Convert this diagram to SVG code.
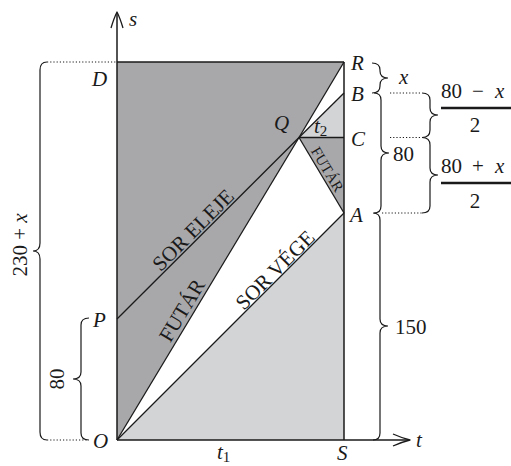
<svg xmlns="http://www.w3.org/2000/svg" width="511" height="466" viewBox="0 0 511 466">
<style>
.dk{fill:#a8a8ab}
.lt{fill:#d3d4d6}
.ln{stroke:#1a1a1a;stroke-width:1.3;fill:none;stroke-linejoin:round}
.ax{stroke:#1a1a1a;stroke-width:1.5;fill:none}
.br{stroke:#1a1a1a;stroke-width:1.2;fill:none}
.dot{stroke:#1a1a1a;stroke-width:1;stroke-dasharray:1.2 2;fill:none}
.bar{stroke:#1a1a1a;stroke-width:2.6}
.m{font-size:21px;font-style:italic}
.n{font-size:21px}
.w{font-size:21px}
.ws{font-size:15px}
</style>
<rect width="511" height="466" fill="#fff"/>
<g id="regions">
<polygon class="dk" points="117,440 117,62 344,62 299,137.5"/>
<polygon class="dk" points="299,137.5 344,137.5 344,213"/>
<polygon class="lt" points="299,137.5 344,93 344,137.5"/>
<polygon class="lt" points="117,440 344,213 344,440"/>
</g>
<g id="connectors">
<line class="ln" x1="117" y1="319" x2="299" y2="137.5"/>
<line class="ln" x1="299" y1="137.5" x2="344" y2="62"/>
<line class="ln" x1="117" y1="440" x2="299" y2="137.5"/>
<line class="ln" x1="299" y1="137.5" x2="344" y2="93"/>
<line class="ln" x1="299" y1="137.5" x2="344" y2="137.5"/>
<line class="ln" x1="299" y1="137.5" x2="344" y2="213"/>
<line class="ln" x1="117" y1="440" x2="344" y2="213"/>
<line class="ax" x1="117" y1="62" x2="344" y2="62"/>
<line class="ax" x1="344" y1="62" x2="344" y2="440"/>
<line class="ax" x1="117" y1="440" x2="117" y2="13"/>
<line class="ax" x1="117" y1="440" x2="409" y2="440"/>
<path class="ln" d="M111,28 Q114,18 117,12 Q120,18 123,28"/>
<path class="ln" d="M393,434 Q402,438 410,440 Q402,442 393,446"/>
</g>
<g id="dotted">
<line class="dot" x1="47" y1="62" x2="117" y2="62"/>
<line class="dot" x1="47" y1="440" x2="87" y2="440"/>
<line class="dot" x1="390" y1="93" x2="422" y2="93"/>
<line class="dot" x1="390" y1="137.5" x2="422" y2="137.5"/>
<line class="dot" x1="382" y1="213" x2="422" y2="213"/>
</g>
<g id="braces">
<path class="br" d="M47,62 Q40,62 40,70 L40,243 Q40,251 33,251 Q40,251 40,259 L40,432 Q40,440 47,440"/>
<path class="br" d="M89,318 Q81,318 81,325 L81,372 Q81,379 73,379 Q81,379 81,386 L81,433 Q81,440 89,440"/>
<path class="br" d="M372,63 Q380,63 380,70 L380,71 Q380,78 388,78 Q380,78 380,85 L380,86 Q380,93 372,93"/>
<path class="br" d="M374,93 Q381,93 381,100 L381,146 Q381,153 389,153 Q381,153 381,160 L381,206 Q381,213 374,213"/>
<path class="br" d="M373,213 Q380,213 380,220 L380,319 Q380,326 388,326 Q380,326 380,333 L380,433 Q380,440 373,440"/>
<path class="br" d="M422,93 Q430,93 430,100 L430,108 Q430,115 438,115 Q430,115 430,122 L430,130 Q430,137.5 422,137.5"/>
<path class="br" d="M422,137.5 Q430,137.5 430,145 L430,168 Q430,175 438,175 Q430,175 430,182 L430,206 Q430,213 422,213"/>
</g>
<g id="labels" font-family="'Liberation Serif', 'Times New Roman', Tinos, 'DejaVu Serif', 'Noto Serif', serif" fill="#1a1a1a">
<text class="m" x="129" y="26">s</text>
<text class="m" x="416" y="447">t</text>
<text class="m" x="92" y="86">D</text>
<text class="m" x="93" y="327">P</text>
<text class="m" x="93" y="448">O</text>
<text class="m" x="351" y="70">R</text>
<text class="m" x="351" y="101">B</text>
<text class="m" x="351" y="146">C</text>
<text class="m" x="350" y="222">A</text>
<text class="m" x="337" y="460">S</text>
<text class="m" x="274" y="130">Q</text>
<text x="217" y="459"><tspan class="m">t</tspan><tspan class="ws" dy="3">1</tspan></text>
<text x="314" y="133"><tspan class="m">t</tspan><tspan class="ws" dy="3">2</tspan></text>
<text class="m" x="399" y="84">x</text>
<text class="n" x="393" y="161">80</text>
<text class="n" x="395" y="334">150</text>
<text transform="translate(27,245) rotate(-90)" text-anchor="middle"><tspan class="n">230 + </tspan><tspan class="m">x</tspan></text>
<text class="n" transform="translate(64,379) rotate(-90)" text-anchor="middle">80</text>
<text y="98"><tspan class="n" x="441">80</tspan><tspan class="n" x="472">−</tspan><tspan class="m" x="495">x</tspan></text>
<line class="bar" x1="441" y1="108" x2="511" y2="108"/>
<text class="n" x="475" y="132" text-anchor="middle">2</text>
<text y="173"><tspan class="n" x="441">80</tspan><tspan class="n" x="472">+</tspan><tspan class="m" x="495">x</tspan></text>
<line class="bar" x1="441" y1="183" x2="511" y2="183"/>
<text class="n" x="475" y="208" text-anchor="middle">2</text>
<text class="w" transform="translate(198,235) rotate(-45)" text-anchor="middle">SOR ELEJE</text>
<text class="w" transform="translate(280,275) rotate(-45)" text-anchor="middle">SOR VÉGE</text>
<text class="w" transform="translate(188,314) rotate(-58.8)" text-anchor="middle">FUTÁR</text>
<text class="ws" transform="translate(323,172) rotate(59.2)" text-anchor="middle">FUTÁR</text>
</g>
</svg>
